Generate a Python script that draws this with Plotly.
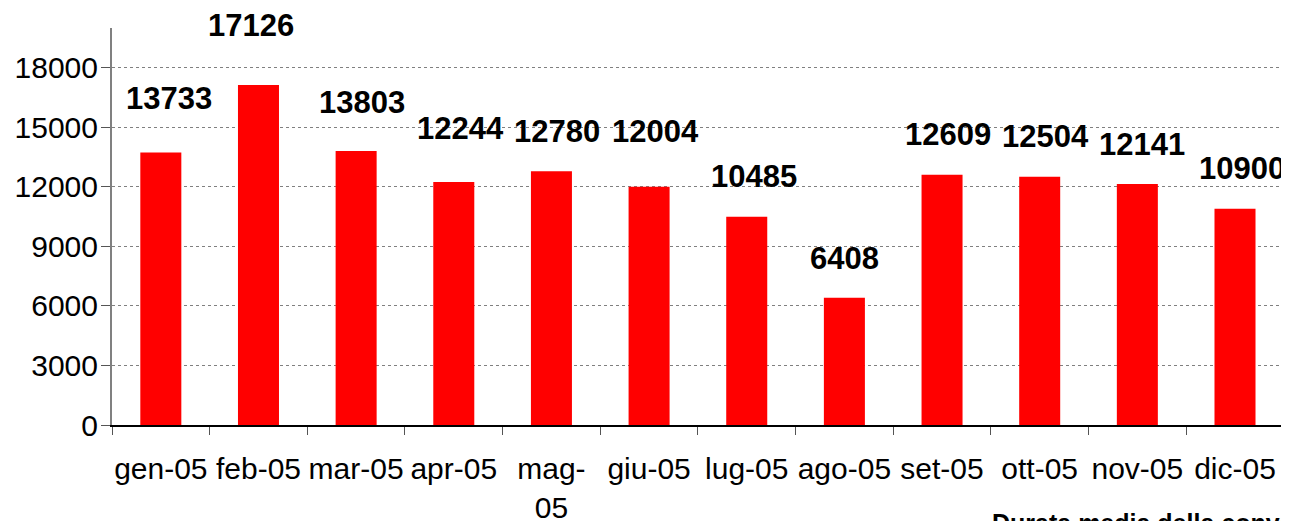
import plotly.graph_objects as go

# ---- data ----
months = ["gen-05", "feb-05", "mar-05", "apr-05", "mag-05", "giu-05",
          "lug-05", "ago-05", "set-05", "ott-05", "nov-05", "dic-05"]
month_tick_text = ["gen-05", "feb-05", "mar-05", "apr-05", "mag-<br>05", "giu-05",
                   "lug-05", "ago-05", "set-05", "ott-05", "nov-05", "dic-05"]
values = [13733, 17126, 13803, 12244, 12780, 12004,
          10485, 6408, 12609, 12504, 12141, 10900]
y_ticks = [0, 3000, 6000, 9000, 12000, 15000, 18000]
y_tick_text = ["0", "3000", "6000", "9000", "12000", "15000", "18000"]
footer_text = "Durata media della conversazione"

# ---- label styling offsets (pixels) ----
label_dy = [54, 60, 49, 53, 40, 55, 40, 39, 40, 40, 40, 40]
label_dx = [8, -7, 6, 7, 6, 6, 7, 0, 6, 6, 5, 7]

FONT = "Liberation Sans, Arial, sans-serif"

# page body has an 8px margin; plot area laid out to compensate
fig = go.Figure()
fig.add_trace(go.Bar(
    x=months, y=values,
    marker=dict(color="#FF0000", line=dict(width=0)),
    width=0.42,
    hoverinfo="x+y",
))

annotations = []
for m, v, dy, dx in zip(months, values, label_dy, label_dx):
    annotations.append(dict(
        x=m, y=v, xref="x", yref="y",
        text=f"<b>{v}</b>", showarrow=False,
        xanchor="center", yanchor="middle",
        yshift=dy, xshift=dx,
        font=dict(family=FONT, size=31, color="#000000"),
    ))

annotations.append(dict(
    x=0.7472, y=-0.2076, xref="paper", yref="paper",
    xanchor="left", yanchor="top",
    text=f"<b>{footer_text}</b>", showarrow=False,
    font=dict(family=FONT, size=25, color="#000000"),
))

fig.update_layout(
    width=1289, height=521,
    margin=dict(l=104, r=10, t=20, b=104, autoexpand=False),
    paper_bgcolor="white", plot_bgcolor="white",
    showlegend=False,
    annotations=annotations,
    font=dict(family=FONT, color="#000000"),
)

fig.update_xaxes(
    type="category",
    tickmode="array", tickvals=months, ticktext=month_tick_text,
    tickson="boundaries", tickangle=0,
    ticks="outside", ticklen=8, tickwidth=1, tickcolor="#555555",
    showline=True, linecolor="#000000", linewidth=2,
    showgrid=False, automargin=False,
    tickfont=dict(family=FONT, size=30, color="#000000"),
    ticklabelstandoff=16,
)

fig.update_yaxes(
    range=[0, 20000],
    tickmode="array", tickvals=y_ticks, ticktext=y_tick_text,
    ticks="outside", ticklen=9, tickwidth=1, tickcolor="#555555",
    showline=True, linecolor="#808080", linewidth=2,
    showgrid=True, gridcolor="#808080", gridwidth=1, griddash="dot",
    zeroline=False, automargin=False,
    tickfont=dict(family=FONT, size=30, color="#000000"),
    ticklabelstandoff=-3,
)

fig.write_html("out.html")
